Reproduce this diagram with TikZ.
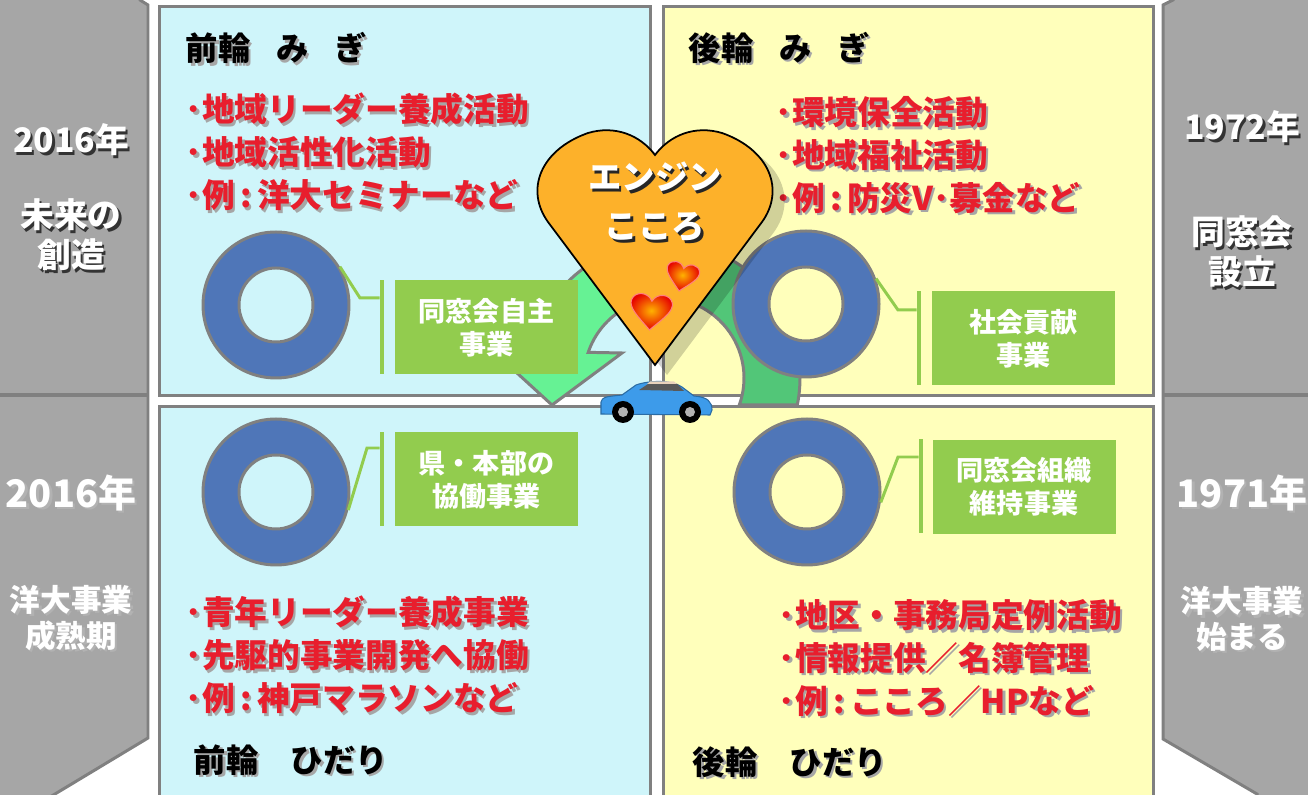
\documentclass[tikz,border=0pt]{standalone}
\usepackage{fontspec}
\setmainfont{Noto Sans CJK JP}
\usepackage{tikz}
\usetikzlibrary{calc}
\usepackage{xcolor}
\definecolor{ColCyan}{RGB}{207,245,250}
\definecolor{ColYellow}{RGB}{255,255,187}
\definecolor{ColFrame}{RGB}{128,128,128}
\definecolor{ColSide}{RGB}{166,166,166}
\definecolor{ColBlue}{RGB}{79,118,184}
\definecolor{ColTag}{RGB}{146,204,78}
\definecolor{ColRed}{RGB}{232,30,45}
\definecolor{ColHeart}{RGB}{253,177,42}
\definecolor{ColArrA}{RGB}{102,242,148}
\definecolor{ColArrB}{RGB}{82,198,120}
\definecolor{ColCar}{RGB}{61,155,234}
\tikzstyle{Panel}=[draw=ColFrame,line width=0.85pt]
\tikzstyle{Side}=[fill=ColSide,draw=ColFrame,line width=0.85pt]
\tikzstyle{Donut}=[circle,draw=ColFrame,fill=ColBlue,line width=0.85pt,minimum size=1.46cm,inner sep=0pt]
\tikzstyle{Hole}=[circle,draw=ColFrame,line width=0.85pt,minimum size=0.74cm,inner sep=0pt]
\tikzstyle{TagBox}=[fill=ColTag,minimum width=1.83cm,minimum height=0.94cm,inner sep=0pt,align=center,
text=white,font=\fontsize{7.7}{9.4}\selectfont\bfseries]
\tikzstyle{TagBar}=[fill=ColTag,minimum width=0.035cm,minimum height=0.94cm,inner sep=0pt]
\tikzstyle{TagLine}=[ColTag,line width=0.85pt]
\tikzstyle{RedList}=[anchor=west,align=left,inner sep=0pt,text=ColRed,font=\fontsize{9.3}{12.2}\selectfont\bfseries]
\tikzstyle{Title}=[anchor=west,inner sep=0pt,font=\fontsize{9.2}{11}\selectfont\bfseries]
\tikzstyle{SideText}=[align=center,inner sep=0pt,text=white,font=\fontsize{9.6}{11.4}\selectfont\bfseries]
\tikzstyle{SideSmall}=[SideText,font=\fontsize{8.7}{10.2}\selectfont\bfseries]
\tikzstyle{SideYear}=[SideText,font=\fontsize{10.8}{12}\selectfont\bfseries]
\tikzstyle{HeartText}=[align=center,inner sep=0pt,text=white,font=\fontsize{9.5}{14}\selectfont\bfseries]
\tikzstyle{Arc}=[draw=ColFrame,line width=0.85pt]
\tikzset{MiniHeart/.pic={\shadedraw[inner color=orange!60!yellow,outer color=red!90!black,draw=red!50,line width=0.3pt]
  (0,-0.15)..controls(-0.1,-0.05)and(-0.19,0.02)..(-0.17,0.09)..controls(-0.15,0.16)and(-0.04,0.17)..(0,0.09)
  ..controls(0.04,0.17)and(0.15,0.16)..(0.17,0.09)..controls(0.19,0.02)and(0.1,-0.05)..(0,-0.15)--cycle;}}
\newcommand{\ShNode}[5][black!35]{%
  \node[#2,text=#1,fill=none,draw=none](#3s)at([shift={(0.025,-0.025)}]#4){#5};
  \node[#2](#3)at(#4){#5};}
\newcommand{\HeartPath}{(6.55,4.29)--(5.48,5.72)..controls(5.25,6.04)and(5.40,6.44)..(5.88,6.61)
  ..controls(6.15,6.69)and(6.40,6.59)..(6.55,6.39)..controls(6.70,6.59)and(6.95,6.69)..(7.22,6.61)
  ..controls(7.70,6.44)and(7.85,6.04)..(7.62,5.72)--cycle}
\begin{document}
\begin{tikzpicture}
        \useasboundingbox(0,0)rectangle(13.08,7.94);
        \clip(0,0)rectangle(13.08,7.94);
        \fill[white](0,0)rectangle(13.08,7.94);
        \path[Side](-0.1,8.1)--(1.40,8.1)--(1.40,7.94)--(1.48,7.89)--(1.48,0.56)--(0.55,0)--(0.45,-0.06)--(-0.1,-0.1)--cycle;
        \path[Side](11.73,8.1)--(13.2,8.1)--(13.2,-0.1)--(12.57,-0.1)--(12.57,0)--(11.63,0.55)--(11.63,7.89)--(11.73,7.94)--cycle;
        \draw[ColFrame,line width=1.1pt](0,3.99)--(1.48,3.99);
        \draw[ColFrame,line width=1.1pt](11.63,3.99)--(13.08,3.99);
        \path[Panel,fill=ColCyan](1.595,3.985)rectangle(6.50,7.875);
        \path[Panel,fill=ColCyan](1.595,-0.10)rectangle(6.50,3.875);
        \path[Panel,fill=ColYellow](6.635,3.985)rectangle(11.535,7.875);
        \path[Panel,fill=ColYellow](6.635,-0.10)rectangle(11.535,3.875);
        \coordinate(ctr)at(6.64,4.16);
        \path[Arc,fill=ColArrB]($(ctr)+(-11.45:1.36)$)arc[start angle=-11.45,end angle=95,radius=1.36]
            --($(ctr)+(95:0.8)$)arc[start angle=95,end angle=-19.7,radius=0.8]--cycle;
        \path[Arc,fill=ColArrA]($(ctr)+(85:1.36)$)arc[start angle=85,end angle=172,radius=1.36]
            --(5.17,4.21)--(5.52,3.89)--(6.22,4.41)--($(ctr)+(161.3:0.8)$)arc[start angle=161.3,end angle=85,radius=0.8]--cycle;
        \node[Donut](dUL)at(2.76,4.89){};
        \node[Hole,fill=ColCyan](hUL)at(dUL){};
        \node[Donut](dLL)at(2.76,3.02){};
        \node[Hole,fill=ColCyan](hLL)at(dLL){};
        \node[Donut](dUR)at(8.06,4.90){};
        \node[Hole,fill=ColYellow](hUR)at(dUR){};
        \node[Donut](dLR)at(8.07,3.02){};
        \node[Hole,fill=ColYellow](hLR)at(dLR){};
        \node[TagBar](bUL)at(3.82,4.67){};
        \node[TagBar](bLL)at(3.82,3.15){};
        \node[TagBar](bUR)at(9.19,4.555){};
        \node[TagBar](bLR)at(9.21,3.075){};
        \coordinate(eUL)at(3.60,4.96);
        \coordinate(eLL)at(3.67,3.46);
        \coordinate(eUR)at(8.98,4.84);
        \coordinate(eLR)at(8.98,3.37);
        \draw[TagLine](dUL.31)--(eUL)--(eUL-|bUL.west);
        \draw[TagLine](dLL.-14)--(eLL)--(eLL-|bLL.west);
        \draw[TagLine](dUR.20)--(eUR)--(eUR-|bUR.west);
        \draw[TagLine](dLR.-8)--(eLR)--(eLR-|bLR.west);
        \node[TagBox](gUL)at(4.865,4.665){同窓会自主\\事業};
        \node[TagBox](gLL)at(4.865,3.145){県・本部の\\協働事業};
        \node[TagBox](gUR)at(10.235,4.555){社会貢献\\事業};
        \node[TagBox](gLR)at(10.24,3.07){同窓会組織\\維持事業};
        \ShNode{Title}{tUL}{1.85,7.46}{前輪\hspace{.8em}み\hspace{.8em}ぎ}
        \ShNode{Title}{tUR}{6.88,7.46}{後輪\hspace{.8em}み\hspace{.8em}ぎ}
        \ShNode{Title}{tLL}{1.93,0.34}{前輪　ひだり}
        \ShNode{Title}{tLR}{6.92,0.32}{後輪　ひだり}
        \ShNode{RedList}{lUL}{1.85,6.42}{･地域リーダー養成活動\\･地域活性化活動\\･例\,:\,洋大セミナーなど}
        \ShNode{RedList}{lUR}{7.75,6.39}{･環境保全活動\\･地域福祉活動\\･例\,:\,防災V･募金など}
        \ShNode{RedList}{lLL}{1.85,1.39}{･青年リーダー養成事業\\･先駆的事業開発へ協働\\･例\,:\,神戸マラソンなど}
        \ShNode{RedList}{lLR}{7.78,1.36}{･地区・事務局定例活動\\･情報提供／名簿管理\\･例\,:\,こころ／HPなど}
        \ShNode[black!80]{SideText}{yUL}{0.71,6.54}{2016年}
        \ShNode[black!80]{SideText}{sUL}{0.71,5.59}{未来の\\創造}
        \ShNode[black!30]{SideYear}{yLL}{0.71,3.01}{2016年}
        \ShNode[black!30]{SideSmall}{sLL}{0.71,1.76}{洋大事業\\成熟期}
        \ShNode[black!80]{SideText}{yUR}{12.42,6.67}{1972年}
        \ShNode[black!80]{SideText}{sUR}{12.42,5.42}{同窓会\\設立}
        \ShNode[black!30]{SideYear}{yLR}{12.42,3.01}{1971年}
        \ShNode[black!30]{SideSmall}{sLR}{12.42,1.75}{洋大事業\\始まる}
        \fill[black,opacity=0.18,shift={(0.12,-0.10)}]\HeartPath;
        \path[draw=black,line width=0.5pt,fill=ColHeart]\HeartPath;
        \ShNode[black!85]{HeartText}{eng}{6.55,5.92}{エンジン\\こころ}
        \pic[rotate=-12,scale=0.95]at(6.82,5.17){MiniHeart};
        \pic[rotate=-5,scale=1.2]at(6.51,4.82){MiniHeart};
        \path[fill=ColCar,draw=ColCar!70!black,line width=0.3pt](6.01,3.80)--(6.01,3.92)..controls(6.03,3.97)..(6.22,3.99)
            --(6.36,4.09)..controls(6.5,4.14)and(6.72,4.14)..(6.82,4.07)--(6.94,3.98)
            ..controls(7.08,3.97)and(7.12,3.92)..(7.12,3.84)--(7.10,3.79)--cycle;
        \fill[black!65](6.39,4.04)--(6.48,4.10)--(6.77,4.10)--(6.84,4.03)--cycle;
        \fill[brown!35](6.47,4.10)--(6.77,4.10)--(6.74,4.125)--(6.50,4.125)--cycle;
        \foreach \x in {6.23,6.90}{\fill[black](\x,3.82)circle(0.11);\fill[black!30](\x,3.82)circle(0.05);}
    \end{tikzpicture}
\end{document}
